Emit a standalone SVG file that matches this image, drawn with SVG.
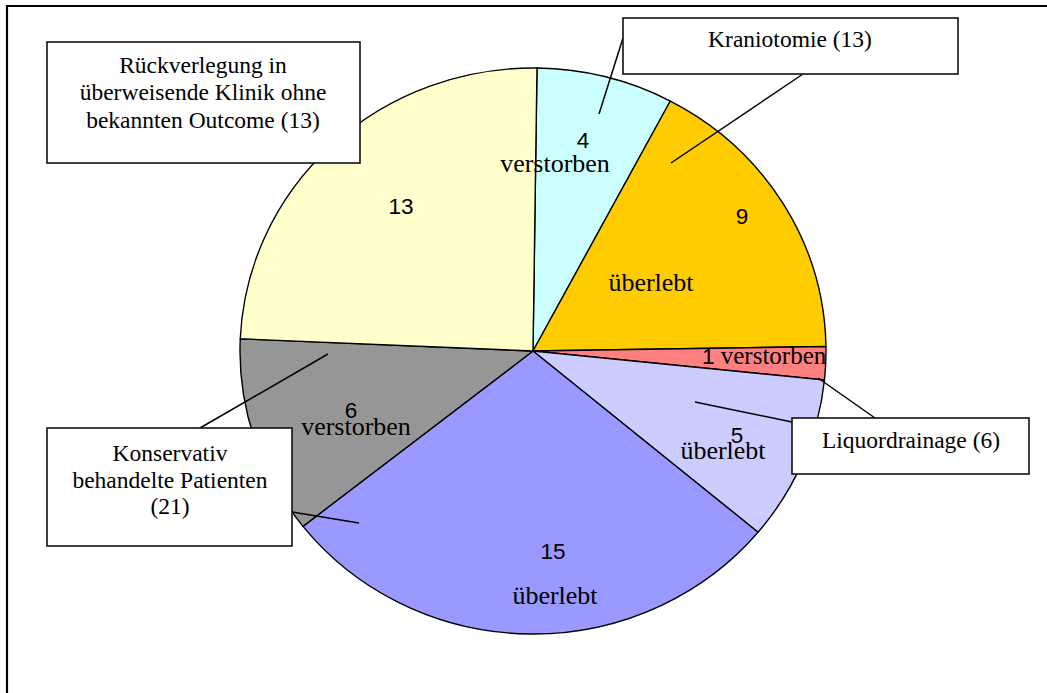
<svg xmlns="http://www.w3.org/2000/svg" width="1047" height="693" viewBox="0 0 1047 693">
<style>
.sl{stroke:#000;stroke-width:1.4;stroke-linejoin:round}
.box{fill:#fff;stroke:#111;stroke-width:1.6}
.bt{font-family:"Liberation Serif","Times New Roman",serif;font-size:23.5px;fill:#000;text-anchor:middle}
.lt{font-family:"Liberation Serif","Times New Roman",serif;font-size:26px;fill:#000;text-anchor:middle}
.nt{font-family:"Liberation Sans",Arial,sans-serif;font-size:22.5px;fill:#000;text-anchor:middle}
.ld{stroke:#000;stroke-width:1.5;fill:none}
</style>
<rect width="1047" height="693" fill="#fff"/>
<path d="M7 693 V6 H1047" fill="none" stroke="#000" stroke-width="2.2"/>
<g id="pie">
<path id="s-cyan" class="sl" fill="#CCFFFF" d="M533 351 L536.99 68.03 A293 283 0 0 1 670.33 101.01 Z"/>
<path id="s-orange" class="sl" fill="#FFCC00" d="M533 351 L670.33 101.01 A293 283 0 0 1 825.96 346.47 Z"/>
<path id="s-red" class="sl" fill="#FF8080" d="M533 351 L825.96 346.47 A293 283 0 0 1 824.46 379.97 Z"/>
<path id="s-lav" class="sl" fill="#CCCCFF" d="M533 351 L824.46 379.97 A293 283 0 0 1 758.04 532.23 Z"/>
<path id="s-blue" class="sl" fill="#9999FF" d="M533 351 L758.04 532.23 A293 283 0 0 1 302.99 526.32 Z"/>
<path id="s-gray" class="sl" fill="#969696" d="M533 351 L302.99 526.32 A293 283 0 0 1 240.27 338.76 Z"/>
<path id="s-yellow" class="sl" fill="#FFFFCC" d="M533 351 L240.27 338.76 A293 283 0 0 1 536.99 68.03 Z"/>
</g>
<g id="slice-labels">
<text class="nt" x="583" y="148">4</text>
<text class="lt" x="555" y="172">verstorben</text>
<text class="nt" x="742" y="224">9</text>
<text class="lt" x="651" y="291">überlebt</text>
<text class="nt" x="401" y="214">13</text>
<text class="nt" x="553" y="559">15</text>
<text class="lt" x="555" y="604">überlebt</text>
<text class="nt" x="351" y="418">6</text>
<text class="lt" x="356" y="435">verstorben</text>
<text x="702" y="364" font-size="25" fill="#000"><tspan font-family="Liberation Sans, Arial, sans-serif" font-size="22.5">1</tspan><tspan font-family="Liberation Serif, Times New Roman, serif"> verstorben</tspan></text>
<text class="nt" x="737" y="443">5</text>
<text class="lt" x="723" y="459">überlebt</text>
</g>
<g id="connectors">
<line class="ld" x1="623" y1="38" x2="599" y2="114"/>
<line class="ld" x1="803" y1="74" x2="671" y2="163"/>
<line class="ld" x1="875" y1="418" x2="818" y2="378"/>
<line class="ld" x1="792" y1="422" x2="695" y2="402"/>
<line class="ld" x1="200" y1="428" x2="328" y2="354"/>
<line class="ld" x1="292" y1="512" x2="359" y2="523"/>
</g>
<g id="box-rueck">
<rect class="box" x="47" y="42" width="313" height="121"/>
<text class="bt" x="203" y="73">Rückverlegung in</text>
<text class="bt" x="203" y="100">überweisende Klinik ohne</text>
<text class="bt" x="203" y="128">bekannten Outcome (13)</text>
</g>
<g id="box-kranio">
<rect class="box" x="623" y="18" width="335" height="56"/>
<text class="bt" x="790" y="47">Kraniotomie (13)</text>
</g>
<g id="box-liquor">
<rect class="box" x="792" y="418" width="237" height="56"/>
<text class="bt" x="911" y="448">Liquordrainage (6)</text>
</g>
<g id="box-konserv">
<rect class="box" x="47" y="428" width="245" height="118"/>
<text class="bt" x="170" y="461">Konservativ</text>
<text class="bt" x="170" y="488">behandelte Patienten</text>
<text class="bt" x="170" y="514">(21)</text>
</g>
</svg>
